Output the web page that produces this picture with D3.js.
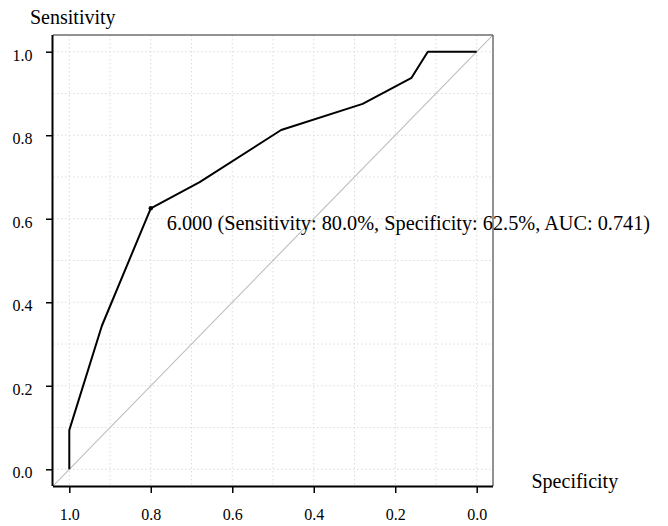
<!DOCTYPE html>
<html>
<head>
<meta charset="utf-8">
<script src="https://cdn.jsdelivr.net/npm/d3@7"></script>
<style>
  html, body { margin: 0; padding: 0; background: #ffffff; }
  svg { display: block; }
  svg text { font-family: "Liberation Serif", "Times New Roman", serif !important; fill: #000; }
</style>
</head>
<body>
<svg id="chart" width="668" height="526"></svg>
<script>
// ---- data ----
const specificity = [1.00, 1.00, 0.92, 0.80, 0.68, 0.48, 0.28, 0.16, 0.12, 0.00];
const sensitivity = [0.00, 0.09375, 0.34375, 0.625, 0.6875, 0.8125, 0.875, 0.9375, 1.00, 1.00];
const xTicks = [1.0, 0.8, 0.6, 0.4, 0.2, 0.0];
const yTicks = [0.0, 0.2, 0.4, 0.6, 0.8, 1.0];
const gridValues = [0, 0.1, 0.2, 0.3, 0.4, 0.5, 0.6, 0.7, 0.8, 0.9, 1.0];
const bestPoint = { specificity: 0.80, sensitivity: 0.625 };
const bestLabel = "6.000 (Sensitivity: 80.0%, Specificity: 62.5%, AUC: 0.741)";
const xTitle = "Specificity";
const yTitle = "Sensitivity";

(function () {
const serif = '"Liberation Serif", "Times New Roman", serif';
// ---- layout ----
const svg = d3.select("#chart");
const pL = 53, pR = 493, pT = 35, pB = 486;
const x = d3.scaleLinear().domain([1.04, -0.04]).range([pL, pR]);
const y = d3.scaleLinear().domain([-0.04, 1.04]).range([pB, pT]);

// grid
const grid = svg.append("g");
grid.selectAll("line.gx").data(gridValues).enter().append("line")
  .attr("x1", d => x(d)).attr("x2", d => x(d))
  .attr("y1", pT).attr("y2", pB)
  .attr("stroke", "#dcdcdc").attr("stroke-width", 1).attr("stroke-dasharray", "1.5,2.5");
grid.selectAll("line.gy").data(gridValues).enter().append("line")
  .attr("y1", d => y(d)).attr("y2", d => y(d))
  .attr("x1", pL).attr("x2", pR)
  .attr("stroke", "#dcdcdc").attr("stroke-width", 1).attr("stroke-dasharray", "1.5,2.5");

// clip
svg.append("clipPath").attr("id", "clip").append("rect")
  .attr("x", pL).attr("y", pT).attr("width", pR - pL).attr("height", pB - pT);

// diagonal reference line
svg.append("line")
  .attr("clip-path", "url(#clip)")
  .attr("x1", x(1.04)).attr("y1", y(-0.04))
  .attr("x2", x(-0.04)).attr("y2", y(1.04))
  .attr("stroke", "#bdbdbd").attr("stroke-width", 1.1);

// box top/right
svg.append("line").attr("x1", pL).attr("x2", pR).attr("y1", pT).attr("y2", pT)
  .attr("stroke", "#6e6e6e").attr("stroke-width", 1.5);
svg.append("line").attr("x1", pR).attr("x2", pR).attr("y1", pT).attr("y2", pB)
  .attr("stroke", "#6e6e6e").attr("stroke-width", 1.5);

// ROC curve
const pts = specificity.map((s, i) => [s, sensitivity[i]]);
svg.append("path")
  .datum(pts)
  .attr("fill", "none").attr("stroke", "#000").attr("stroke-width", 2)
  .attr("stroke-linejoin", "round")
  .attr("d", d3.line().x(d => x(d[0])).y(d => y(d[1])));

// best threshold point
svg.append("circle")
  .attr("cx", x(bestPoint.specificity)).attr("cy", y(bestPoint.sensitivity))
  .attr("r", 2.2).attr("fill", "#000");
svg.append("text")
  .attr("x", x(bestPoint.specificity) + 16)
  .attr("y", y(bestPoint.sensitivity) + 22)
  .style("font-family", serif)
  .style("font-size", "20.3px")
  .text(bestLabel);

// axes
const xAxis = d3.axisBottom(x).tickValues(xTicks).tickSize(7).tickPadding(0).tickFormat(d3.format(".1f"));
const gx = svg.append("g").attr("transform", `translate(0,${pB})`).call(xAxis)
  .attr("font-family", null).attr("font-size", null);
gx.select(".domain").attr("d", `M${pL},0.5H${pR}`).attr("stroke", "#000").attr("stroke-width", 2);
gx.selectAll(".tick line").attr("stroke", "#000").attr("stroke-width", 1.5);
gx.selectAll(".tick text").style("font-family", serif).style("font-size", "16px")
  .attr("dy", null).attr("y", 34).attr("fill", "#000");

const yAxis = d3.axisLeft(y).tickValues(yTicks).tickSize(7).tickPadding(0).tickFormat(d3.format(".1f"));
const gy = svg.append("g").attr("transform", `translate(${pL},0)`).call(yAxis)
  .attr("font-family", null).attr("font-size", null);
gy.select(".domain").attr("d", `M-0.5,${pT}V${pB}`).attr("stroke", "#000").attr("stroke-width", 2);
gy.selectAll(".tick line").attr("stroke", "#000").attr("stroke-width", 1.5);
gy.selectAll(".tick text").style("font-family", serif).style("font-size", "16px")
  .attr("x", -20.5).attr("dy", null).attr("y", 8.3).attr("fill", "#000");

// axis titles
svg.append("text").attr("x", 30).attr("y", 23.5).style("font-family", serif).style("font-size", "20px").text(yTitle);
svg.append("text").attr("x", 531.5).attr("y", 488).style("font-family", serif).style("font-size", "20px").text(xTitle);
})();
</script>
</body>
</html>
